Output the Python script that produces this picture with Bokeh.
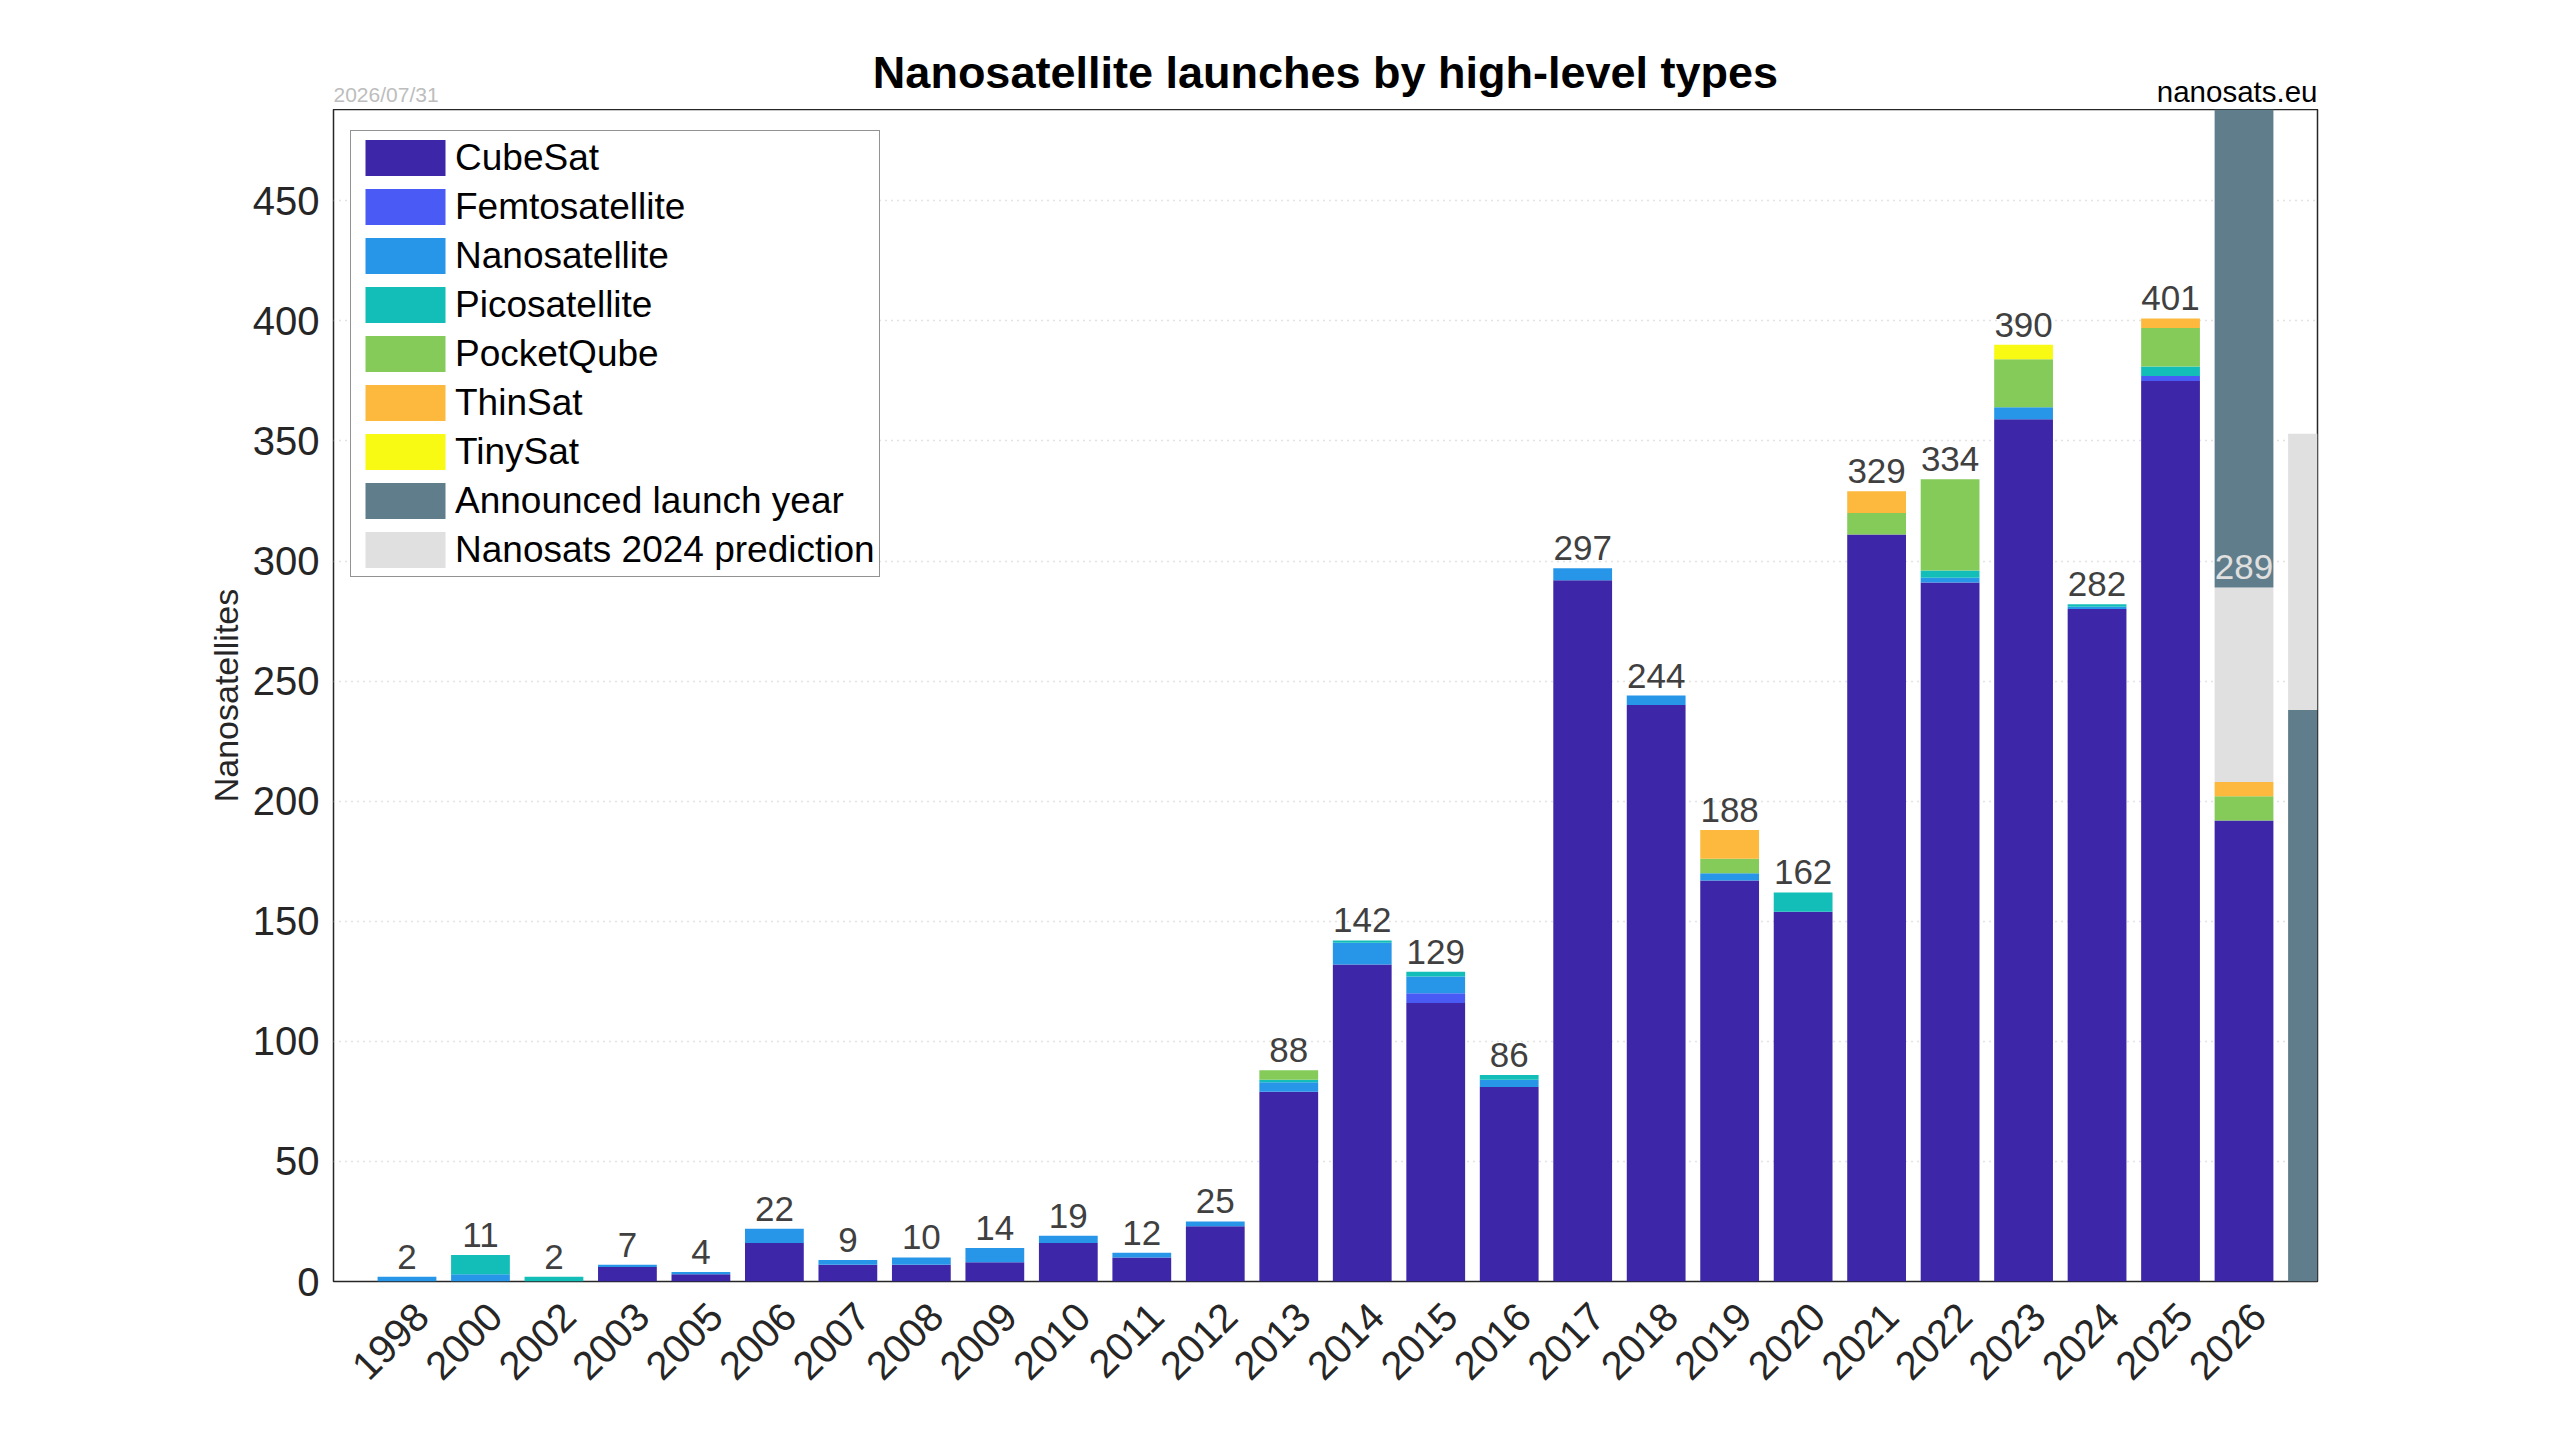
from math import pi
from bokeh.plotting import figure
from bokeh.layouts import column
from bokeh.models import (ColumnDataSource, FixedTicker, Legend, LegendItem, Label, LabelSet, Range1d)
from bokeh.core.properties import value
from bokeh.embed import file_html
from bokeh.resources import INLINE

# ---------------- data ----------------
years = ["1998", "2000", "2002", "2003", "2005", "2006", "2007", "2008", "2009", "2010",
         "2011", "2012", "2013", "2014", "2015", "2016", "2017", "2018", "2019", "2020",
         "2021", "2022", "2023", "2024", "2025", "2026"]
cubesat      = [0, 0, 0, 6, 3, 16, 7, 7, 8, 16, 10, 23, 79, 132, 116, 81, 292, 240, 167, 154, 311, 291, 359, 280, 375, 192]
femto        = [0, 0, 0, 0, 0, 0, 0, 0, 0, 0, 0, 0, 0, 0, 4, 0, 0, 0, 0, 0, 0, 0, 0, 0, 2, 0]
nano         = [2, 3, 0, 1, 1, 6, 2, 3, 6, 3, 2, 2, 4, 9, 7, 3, 5, 4, 3, 0, 0, 2, 5, 1, 0, 0]
pico         = [0, 8, 2, 0, 0, 0, 0, 0, 0, 0, 0, 0, 1, 1, 2, 2, 0, 0, 0, 8, 0, 3, 0, 1, 4, 0]
pocketqube   = [0, 0, 0, 0, 0, 0, 0, 0, 0, 0, 0, 0, 4, 0, 0, 0, 0, 0, 6, 0, 9, 38, 20, 0, 16, 10]
thinsat      = [0, 0, 0, 0, 0, 0, 0, 0, 0, 0, 0, 0, 0, 0, 0, 0, 0, 0, 12, 0, 9, 0, 0, 0, 4, 6]
tinysat      = [0, 0, 0, 0, 0, 0, 0, 0, 0, 0, 0, 0, 0, 0, 0, 0, 0, 0, 0, 0, 0, 0, 6, 0, 0, 0]
prediction   = [0, 0, 0, 0, 0, 0, 0, 0, 0, 0, 0, 0, 0, 0, 0, 0, 0, 0, 0, 0, 0, 0, 0, 0, 0, 81]
announced    = [0, 0, 0, 0, 0, 0, 0, 0, 0, 0, 0, 0, 0, 0, 0, 0, 0, 0, 0, 0, 0, 0, 0, 0, 0, 230]
# extra (later years) bar at the right edge
extra_announced = [238]
extra_prediction = [115]

yticks = [0, 50, 100, 150, 200, 250, 300, 350, 400, 450]
y_max = 488

type_names = ["CubeSat", "Femtosatellite", "Nanosatellite", "Picosatellite", "PocketQube",
              "ThinSat", "TinySat"]
type_colors = ["#3d27a8", "#4a5af5", "#2796e9", "#14beb8", "#84cb5a", "#fcb93e", "#f8fa13"]
announced_name, announced_color = "Announced launch year", "#607d8b"
prediction_name, prediction_color = "Nanosats 2024 prediction", "#e0e0e0"

title_text = "Nanosatellite launches by high-level types"
date_text = "2026/07/31"
site_text = "nanosats.eu"

FONT = "Liberation Sans"

# ---------------- sources ----------------
xs = list(range(len(years)))
cols = ["cubesat", "femto", "nano", "pico", "pocketqube", "thinsat", "tinysat"]
series = [cubesat, femto, nano, pico, pocketqube, thinsat, tinysat]
data = {"x": xs}
for c, s in zip(cols, series):
    data[c] = s
data["prediction"] = prediction
data["announced"] = announced
src = ColumnDataSource(data)

totals = [sum(v) for v in zip(*series, prediction)]
label_colors = ["#e0e0e0" if a > 0 else "#404040" for a in announced]
lab_src = ColumnDataSource(dict(x=xs, y=totals, t=[str(v) for v in totals], c=label_colors))

extra_src = ColumnDataSource(dict(x=[len(years)], announced=extra_announced,
                                  prediction=extra_prediction))

W = 2544
HEAD_H = 109
MAIN_H = 1315
BL, BR, BB = 333, 227, 143
FRAME_H = MAIN_H - BB

xr = Range1d(-1, len(years))

# ---------------- header (title, date, site) ----------------
head = figure(width=W, height=HEAD_H, output_backend="svg", toolbar_location=None,
              x_range=xr, y_range=Range1d(0, HEAD_H), x_axis_type=None, y_axis_type=None,
              title=None)
head.min_border_left = BL
head.min_border_right = BR
head.min_border_top = 0
head.min_border_bottom = 0
head.outline_line_color = None
head.background_fill_color = "white"
head.border_fill_color = "white"
head.add_layout(Label(x=(len(years) - 1) / 2, y=37, text=title_text,
                      text_font=FONT, text_font_size="45px", text_font_style="bold",
                      text_color="black", text_align="center", text_baseline="alphabetic"))
head.add_layout(Label(x=-1, y=15, text=date_text,
                      text_font=FONT, text_font_size="21px", text_color="#bdbdbd",
                      text_align="left", text_baseline="alphabetic"))
head.add_layout(Label(x=len(years), y=18, text=site_text,
                      text_font=FONT, text_font_size="29.5px", text_color="black",
                      text_align="right", text_baseline="alphabetic"))

# ---------------- main figure ----------------
p = figure(width=W, height=MAIN_H, output_backend="svg", toolbar_location=None,
           x_range=xr, y_range=Range1d(0, y_max), title=None)
p.min_border_left = BL
p.min_border_right = BR
p.min_border_top = 0
p.min_border_bottom = BB
p.background_fill_color = "white"
p.border_fill_color = "white"
p.outline_line_color = "#262626"
p.outline_line_width = 1.5

renderers = p.vbar_stack(cols + ["prediction", "announced"], x="x", width=0.8, source=src,
                         color=type_colors + [prediction_color, announced_color],
                         line_color=None)
extra_r = p.vbar_stack(["announced", "prediction"], x="x", width=0.8, source=extra_src,
                       color=[announced_color, prediction_color], line_color=None)

p.add_layout(LabelSet(x="x", y="y", text="t", source=lab_src, text_color="c",
                      text_font=value(FONT), text_font_size=value("35px"), text_align="center",
                      text_baseline="alphabetic", y_offset=8))

# axes (year labels anchored slightly right of the bar centre, like the original)
tick_shift = 0.2
xticks = [i + tick_shift for i in xs]
p.xaxis.ticker = FixedTicker(ticks=xticks)
p.xaxis.major_label_overrides = {t: y for t, y in zip(xticks, years)}
p.xaxis.major_label_orientation = pi / 4
p.yaxis.ticker = FixedTicker(ticks=yticks)
for ax in (p.xaxis, p.yaxis):
    ax.axis_line_color = None
    ax.major_tick_line_color = None
    ax.minor_tick_line_color = None
    ax.major_label_text_font = FONT
    ax.major_label_text_font_size = "40px"
    ax.major_label_text_color = "#262626"
p.xaxis.major_label_standoff = 22
p.yaxis.major_label_standoff = 8
p.yaxis.axis_label = "Nanosatellites"
p.yaxis.axis_label_text_font = FONT
p.yaxis.axis_label_text_font_size = "34px"
p.yaxis.axis_label_text_font_style = "normal"
p.yaxis.axis_label_text_color = "#262626"
p.yaxis.axis_label_standoff = 5

p.xgrid.visible = False
p.ygrid.grid_line_color = "#c8c8c8"
p.ygrid.grid_line_dash = "1 5"
p.ygrid.grid_line_width = 1.5

# legend
items = [LegendItem(label=n, renderers=[r]) for n, r in zip(type_names, renderers[:7])]
items.append(LegendItem(label=announced_name, renderers=[renderers[8]]))
items.append(LegendItem(label=prediction_name, renderers=[renderers[7]]))
LEG_PAD, LEG_ITEM_H, LEG_SPACING = 4, 45, 4
leg_h = 2 * LEG_PAD + len(items) * LEG_ITEM_H + (len(items) - 1) * LEG_SPACING
leg = Legend(items=items, location=(17, FRAME_H - 23 - leg_h), padding=LEG_PAD,
             border_line_color="#262626", border_line_width=1.5,
             background_fill_color="white", background_fill_alpha=1.0,
             label_text_font=FONT, label_text_font_size="37px", label_text_color="black",
             glyph_width=100, glyph_height=LEG_ITEM_H, label_height=LEG_ITEM_H,
             label_standoff=0, spacing=LEG_SPACING)
p.add_layout(leg)

layout = column(head, p, spacing=0)
open("out.html", "w").write(file_html(layout, INLINE))
